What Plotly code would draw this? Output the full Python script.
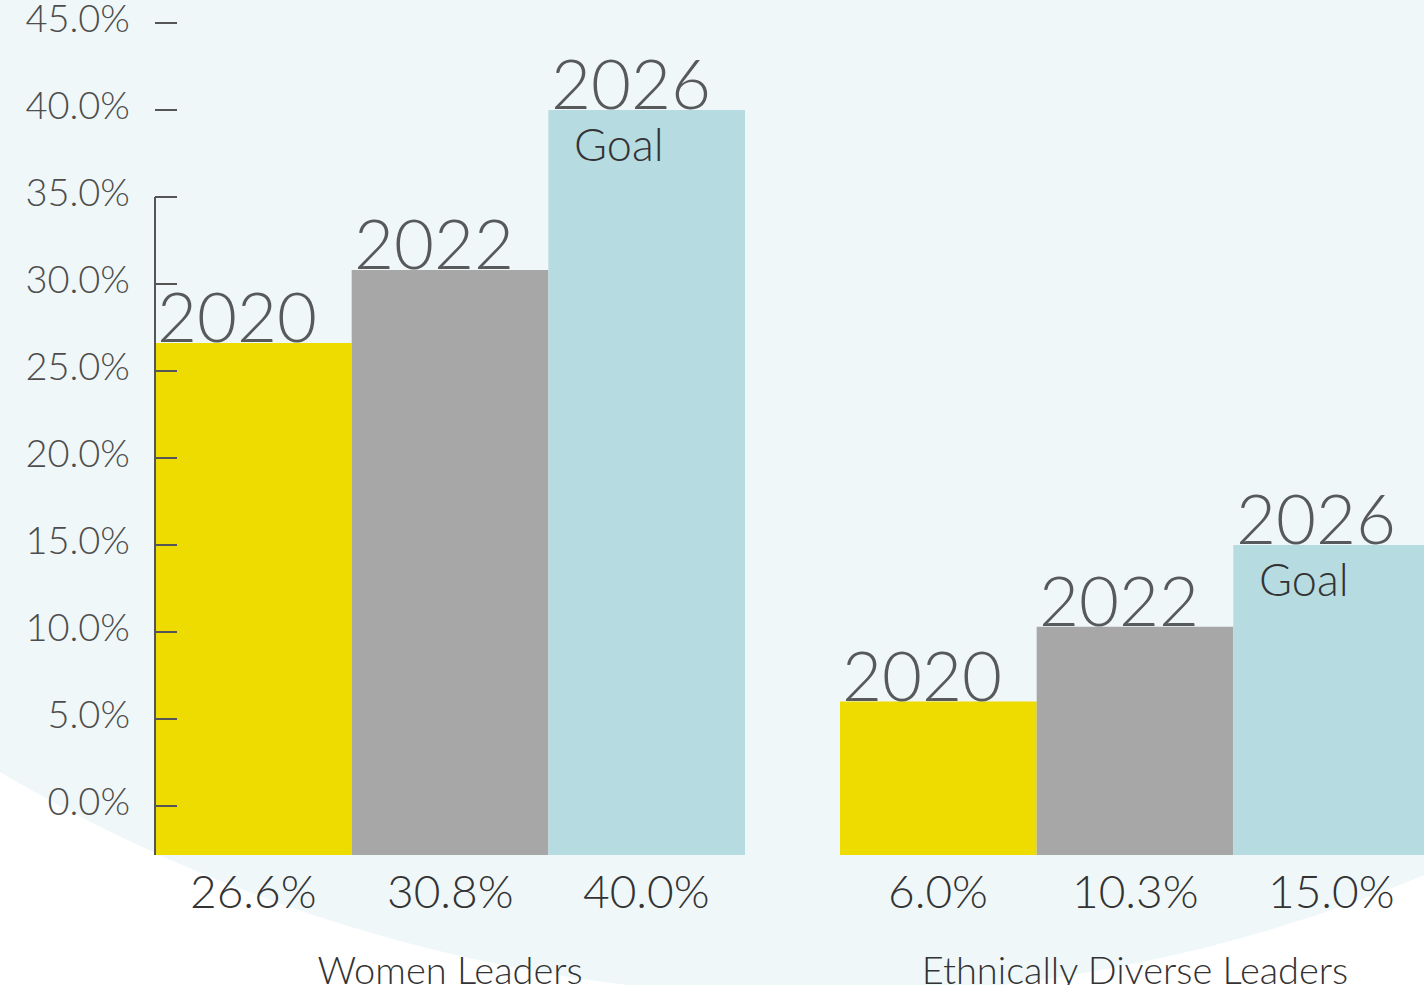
import plotly.graph_objects as go

#data
GROUPS = ['Women Leaders', 'Ethnically Diverse Leaders']
YEARS = ['2020', '2022', '2026']
VALUES_2020 = [26.6, 6.0]
VALUES_2022 = [30.8, 10.3]
VALUES_2026 = [40.0, 15.0]
VALUE_LABELS_2020 = ['26.6%', '6.0%']
VALUE_LABELS_2022 = ['30.8%', '10.3%']
VALUE_LABELS_2026 = ['40.0%', '15.0%']
GOAL_YEAR = '2026'
GOAL_TEXT = 'Goal'

SERIES = [(YEARS[0], VALUES_2020, VALUE_LABELS_2020),
          (YEARS[1], VALUES_2022, VALUE_LABELS_2022),
          (YEARS[2], VALUES_2026, VALUE_LABELS_2026)]

#plot settings
FIG_SIZE = {'width': 1424, 'height': 985}
MARGIN = {'l': 155, 'r': 0, 't': 0, 'b': 130}
BAR_COLORS = {'2020': '#EEDC00', '2022': '#A6A7A6', '2026': '#B6DBE0'}
CIRCLE_COLOR = '#EFF7F9'
AXIS_COLOR = '#555555'
FONT = {'family': 'Lato, "Open Sans", sans-serif', 'weight': 300}
BARGAP = 0.1387
Y_RANGE = [-2.82, 46.32]
X_RANGE = [-0.4307, 1.4219]

PLOT_W = FIG_SIZE['width'] - MARGIN['l'] - MARGIN['r']
PLOT_H = FIG_SIZE['height'] - MARGIN['t'] - MARGIN['b']

'''helpers to go from page pixels to paper coordinates'''
def px_x(x):
    return (x - MARGIN['l']) / PLOT_W

def px_y(y):
    return (FIG_SIZE['height'] - MARGIN['b'] - y) / PLOT_H

fig = go.Figure()

#bars start at the bottom of the axis, not at zero
for year, values, _ in SERIES:
    fig.add_trace(go.Bar(x=GROUPS, y=[v - Y_RANGE[0] for v in values], base=Y_RANGE[0],
                         name=year, marker_color=BAR_COLORS[year], marker_line_width=0))

#annotations: year above each bar, value below, goal inside
bar_w = (1 - BARGAP) / len(SERIES)
annotations = []
for i, (year, values, labels) in enumerate(SERIES):
    for g, (value, label) in enumerate(zip(values, labels)):
        x = g + (i - (len(SERIES) - 1) / 2) * bar_w
        annotations.append(dict(x=x, y=value, xref='x', yref='y', text=year, showarrow=False,
                                xanchor='center', yanchor='bottom', xshift=-16, yshift=-16,
                                font={**FONT, 'size': 69, 'color': '#58595B'}))
        annotations.append(dict(x=x, y=px_y(891), xref='x', yref='paper', text=label, showarrow=False,
                                xanchor='center', yanchor='middle',
                                font={**FONT, 'size': 46, 'color': '#333333'}))
        if year == GOAL_YEAR:
            annotations.append(dict(x=x, y=value, xref='x', yref='y', text=GOAL_TEXT, showarrow=False,
                                    xanchor='center', yanchor='top', xshift=-28, yshift=-5,
                                    font={**FONT, 'size': 45, 'color': '#333333'}))

#background circle and the short axis line
shapes = [dict(type='circle', xref='paper', yref='paper', layer='below',
               x0=px_x(815 - 1595), x1=px_x(815 + 1595),
               y0=px_y(996), y1=px_y(996 - 2 * 1595),
               fillcolor=CIRCLE_COLOR, line_width=0),
          dict(type='line', xref='paper', yref='y', x0=0, x1=0, y0=35, y1=Y_RANGE[0],
               line={'color': AXIS_COLOR, 'width': 2})]

#x-axis
fig.update_xaxes(type='category', range=X_RANGE, automargin=False,
                 showgrid=False, showline=False, zeroline=False,
                 ticks='', ticklabelstandoff=90,
                 tickfont={**FONT, 'size': 38, 'color': '#333333'})

#y-axis
fig.update_yaxes(range=Y_RANGE, tick0=0, dtick=5, tickformat='.1f', ticksuffix='%',
                 automargin=False, showgrid=False, showline=False, zeroline=False,
                 ticks='inside', ticklen=22, tickwidth=2, tickcolor=AXIS_COLOR,
                 ticklabelstandoff=24, ticklabelshift=-4, ticklabeloverflow='allow',
                 tickfont={**FONT, 'size': 38, 'color': '#4D4D4D'})

fig.update_layout(**FIG_SIZE, margin=MARGIN, barmode='group', bargap=BARGAP, bargroupgap=0,
                  showlegend=False, plot_bgcolor='rgba(0,0,0,0)', paper_bgcolor='white',
                  font=FONT, annotations=annotations, shapes=shapes)

fig.write_html('out.html', config={'displayModeBar': False},
               post_script="document.body.style.margin = '0';")
